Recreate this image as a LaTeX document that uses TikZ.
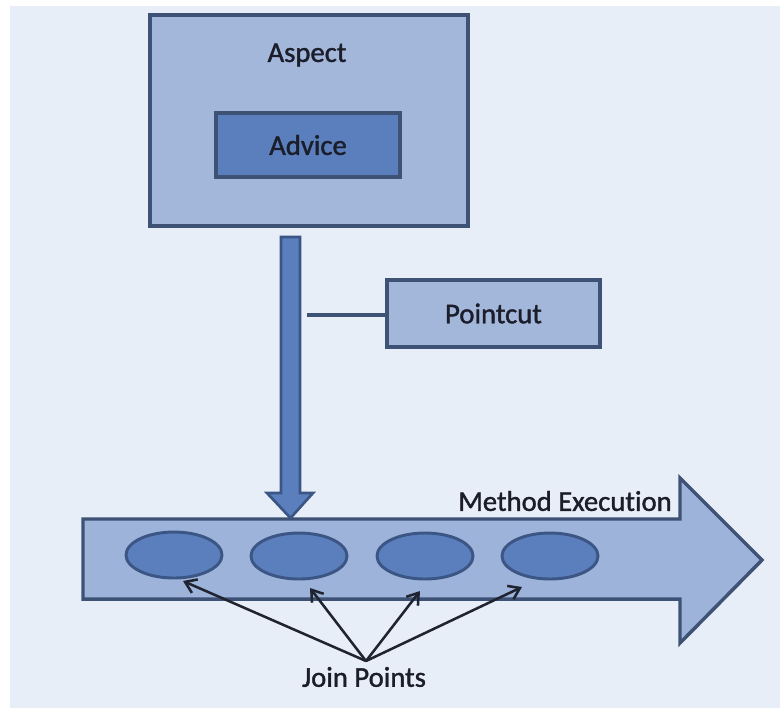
\documentclass[tikz,border=0pt]{standalone}
\usepackage{fontspec}
\setmainfont{Carlito}[Ligatures=NoCommon,FakeBold=1.3]
\usetikzlibrary{arrows.meta,shapes.geometric,calc}
\definecolor{bg}{HTML}{E8EEF7}
\definecolor{boxfill}{HTML}{A3B7DB}
\definecolor{boxline}{HTML}{3E5276}
\definecolor{darkfill}{HTML}{5B7FBC}
\definecolor{darkline}{HTML}{3B5584}
\definecolor{arrowfill}{HTML}{9DB3DA}
\definecolor{txt}{HTML}{1B1E2A}
\definecolor{conn}{HTML}{1F2430}
\begin{document}
\begin{tikzpicture}[x=0.75pt,y=-0.75pt,
  lbl/.style={text=txt,font=\fontsize{21.5pt}{24pt}\selectfont,inner sep=0pt},
  lightbox/.style={draw=boxline,fill=boxfill,line width=2.6pt,inner sep=0pt},
  advicebox/.style={draw=boxline,fill=darkfill,line width=2.4pt,inner sep=0pt,text=txt,font=\fontsize{21.5pt}{24pt}\selectfont},
  jpoint/.style={ellipse,draw=darkline,fill=darkfill,line width=2.2pt,minimum width=72pt,minimum height=34.5pt,inner sep=0pt},
  jparrow/.style={draw=conn,line width=1.9pt,-{Straight Barb[length=8pt,width=11pt,line width=1.9pt]}}
]
\useasboundingbox (0,0) rectangle (780,708);
\fill[white] (0,0) rectangle (780,708);
\fill[bg] (10,6) rectangle (780,708);

% Aspect box
\node[lightbox,minimum width=238.5pt,minimum height=158.25pt] (aspect) at (309,120.5) {};
\node[lbl] (aspectlbl) at (307,55) {Aspect};
\node[advicebox,minimum width=138pt,minimum height=48pt] (advice) at (308,145) {Advice};

% Pointcut
\node[lightbox,minimum width=159.75pt,minimum height=50.25pt,text=txt,font=\fontsize{21.5pt}{24pt}\selectfont] (pointcut) at (493.5,313.5) {Pointcut};
\coordinate (pc) at (307,315);
\draw[draw=boxline,line width=2.6pt] (pc) -- (pc -| pointcut.west);

% Method execution big arrow
\draw[draw=boxline,fill=arrowfill,line width=2.6pt,line join=miter]
  (83,519) -- (680,519) -- (680,478) -- (762,560) -- (680,643) -- (680,599) -- (83,599) -- cycle;
\node[lbl,anchor=east] (method) at (672,501) {Method Execution};

% Down arrow
\draw[draw=darkline,fill=darkfill,line width=2pt,line join=miter]
  (281,237) -- (300,237) -- (300,493) -- (313,493) -- (290.5,518) -- (267,493) -- (281,493) -- cycle;

% Join points
\node[jpoint] (e1) at (174,555) {};
\node[jpoint] (e2) at (299,556) {};
\node[jpoint] (e3) at (425,556) {};
\node[jpoint] (e4) at (550,556) {};

\node[lbl] (jp) at (364,677) {Join Points};
\coordinate (apex) at (366,661);
\coordinate (t1) at (183,581);
\coordinate (t2) at (310,588);
\coordinate (t3) at (420,591);
\coordinate (t4) at (522,587);
\draw[jparrow] (apex) -- (t1);
\draw[jparrow] (apex) -- (t2);
\draw[jparrow] (apex) -- (t3);
\draw[jparrow] (apex) -- (t4);
\end{tikzpicture}
\end{document}
